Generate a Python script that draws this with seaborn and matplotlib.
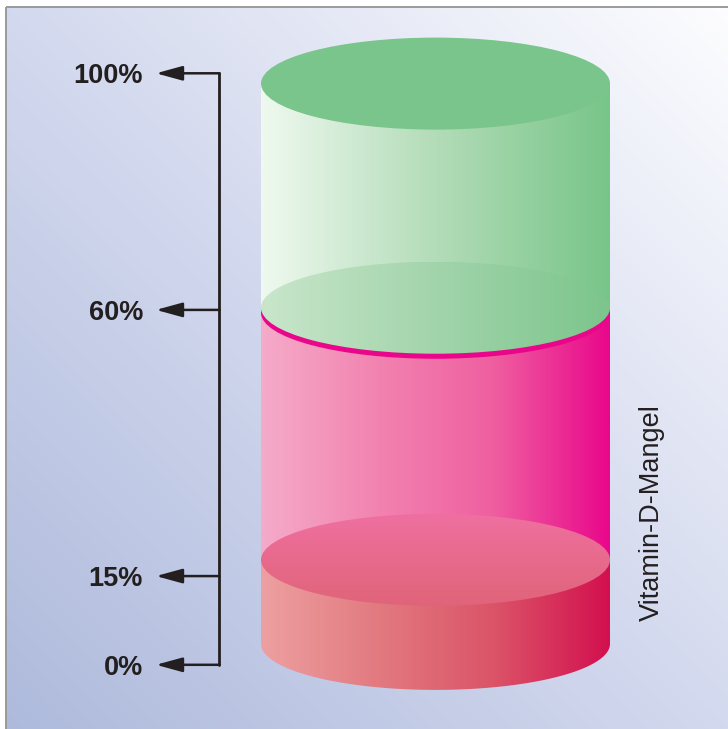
import numpy as np
import matplotlib
matplotlib.use("Agg")
import matplotlib.pyplot as plt
import seaborn as sns
from matplotlib.patches import Ellipse, PathPatch, Rectangle
from matplotlib.path import Path
from matplotlib.colors import LinearSegmentedColormap

# ---------------- data ----------------
levels = [0, 15, 60, 100]
level_labels = ["0%", "15%", "60%", "100%"]
seg_lo = [0, 15, 60]
seg_hi = [15, 60, 100]
side_title = "Vitamin-D-Mangel"

# ---------------- style / layout ----------------
sns.set_theme(style="white")
plt.rcParams['font.family'] = ['Liberation Sans', 'DejaVu Sans']

W, H = 728, 729
fig = plt.figure(figsize=(W / 100, H / 100), dpi=100)
ink = '#231f20'

# background gradient
bg = fig.add_axes([0, 0, 1, 1])
bg.set_axis_off()
xx, yy = np.meshgrid(np.linspace(0, 1, 400), np.linspace(0, 1, 400))
t = (xx + yy) / 2
cmap_bg = LinearSegmentedColormap.from_list('bg', ['#aebadc', '#d3d9ee', '#fdfdff'])
bg.imshow(t, cmap=cmap_bg, origin='lower', extent=[0, W, 0, H], aspect='auto', interpolation='bilinear')
bg.add_patch(Rectangle((0, H - 7), W, 7, color='white', lw=0))
bg.add_patch(Rectangle((0, 0), 6, H, color='white', lw=0))
bg.plot([6, 6], [0, H - 7], color='#9a9a9a', lw=1.4, solid_capstyle='butt')
bg.plot([6, W], [H - 7, H - 7], color='#9a9a9a', lw=1.4, solid_capstyle='butt')
bg.set_xlim(0, W)
bg.set_ylim(0, H)

# cylinder axes (y in percent, linear scale)
ax = fig.add_axes([0, 0, 1, 1])
ax.set_axis_off()
ax.patch.set_visible(False)
px_per_unit = 5.603
base_px = 643.9
ylim_cyl = (-(H - base_px) / px_per_unit, base_px / px_per_unit)

cx, rx = 435.5, 174.5
ry = 46 / px_per_unit


def body_path(lo, hi):
    th = np.linspace(np.pi, 2 * np.pi, 120)
    verts = [(cx - rx, hi), (cx - rx, lo)]
    verts += list(zip(cx + rx * np.cos(th), lo + ry * np.sin(th)))
    verts += [(cx + rx, hi), (cx - rx, hi)]
    codes = [Path.MOVETO] + [Path.LINETO] * (len(verts) - 2) + [Path.CLOSEPOLY]
    return Path(verts, codes)


def grad_fill(patch, colors, z, vertical=False):
    patch.set_facecolor('none')
    patch.set_edgecolor('none')
    patch.set_transform(ax.transData)
    ax.add_patch(patch)
    if isinstance(patch, Ellipse):
        ext = patch.get_path().get_extents(patch.get_patch_transform())
    else:
        ext = patch.get_path().get_extents()
    if vertical:
        g = np.linspace(0, 1, 256).reshape(-1, 1)
    else:
        g = np.linspace(0, 1, 256).reshape(1, -1)
    cm = LinearSegmentedColormap.from_list('g', colors)
    im = ax.imshow(g, cmap=cm, extent=[ext.x0, ext.x1, ext.y0, ext.y1], origin='lower',
                   aspect='auto', zorder=z, interpolation='bilinear')
    im.set_clip_path(patch)


body_colors = [
    ['#eda0a1', '#e27a80', '#db5468', '#d3104f'],
    ['#f5abca', '#f283b0', '#ef5fa0', '#e9078b'],
    ['#eff9ef', '#b3dcb8', '#78c589'],
]
pink_gap = 0.9

# green body (60-100)
grad_fill(PathPatch(body_path(seg_lo[2], seg_hi[2])), body_colors[2], 1)
# pink body (15-60)
grad_fill(PathPatch(body_path(seg_lo[1], seg_hi[1] - pink_gap)), body_colors[1], 2)
# red body (0-15)
grad_fill(PathPatch(body_path(seg_lo[0], seg_hi[0])), body_colors[0], 3)
# 15% top surface (vertical gradient)
grad_fill(Ellipse((cx, seg_hi[0]), 2 * rx, 2 * ry), ['#e06479', '#ef70a0'], 4, vertical=True)
# magenta rim at 60
ax.add_patch(Ellipse((cx, seg_hi[1] - pink_gap), 2 * rx, 2 * ry, facecolor='#e9068a',
                     edgecolor='none', zorder=5))
# green translucent surface at 60
grad_fill(Ellipse((cx, seg_lo[2]), 2 * rx, 2 * ry), ['#c9e6cb', '#a2d4ab', '#7cc58c'], 6)
# top surface at 100
ax.add_patch(Ellipse((cx, seg_hi[2]), 2 * rx, 2 * ry, facecolor='#7ac58b', edgecolor='none', zorder=7))
ax.set_xlim(0, W)
ax.set_ylim(*ylim_cyl)

# bracket axes (y in percent, linear scale)
ax2 = fig.add_axes([0, 0, 1, 1])
ax2.set_axis_off()
ax2.patch.set_visible(False)
bpx = 5.915
b0 = 664.8
bracket_x = 218.5
sns.lineplot(x=[bracket_x] * len(levels), y=levels, ax=ax2, color=ink, lw=2.0,
             estimator=None, sort=False, legend=False)
for lvl, lab in zip(levels, level_labels):
    ax2.annotate('', xy=(156, lvl), xytext=(bracket_x + 1, lvl),
                 arrowprops=dict(arrowstyle='-|>,head_length=0.8,head_width=0.22', color=ink, lw=1.8,
                                 shrinkA=0, shrinkB=0, mutation_scale=20))
    ax2.text(143, lvl, lab, ha='right', va='center_baseline', fontsize=19.5, fontweight='bold', color=ink)
ax2.set_xlim(0, W)
ax2.set_ylim(-(H - b0) / bpx, b0 / bpx)

fig.text(652 / W, 1 - 513 / H, side_title, rotation=90, ha='center', va='center', fontsize=19.5, color=ink)

fig.savefig('out.png', dpi=100)
